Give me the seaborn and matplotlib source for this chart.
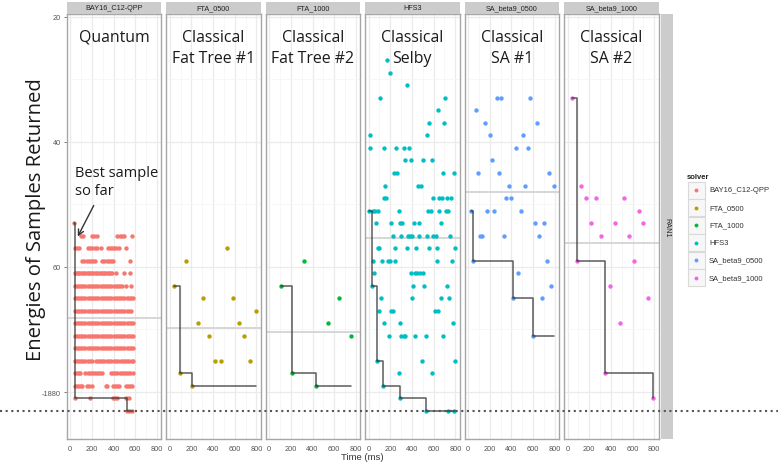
import numpy as np
import pandas as pd
import matplotlib
matplotlib.use("Agg")
import matplotlib.pyplot as plt
import matplotlib.transforms as mtransforms
from matplotlib.lines import Line2D
from matplotlib.patches import Rectangle, FancyArrowPatch
import seaborn as sns

# ---------------- data ----------------
solvers = ["BAY16_C12-QPP", "FTA_0500", "FTA_1000", "HFS3", "SA_beta9_0500", "SA_beta9_1000"]
panel_titles = ["Quantum", "Classical\nFat Tree #1", "Classical\nFat Tree #2",
                "Classical\nSelby", "Classical\nSA #1", "Classical\nSA #2"]
colors = ["#F8766D", "#B79F00", "#00BA38", "#00BFC4", "#619CFF", "#F564E3"]

# Quantum annealer samples: energy level -> times (ms)
q_levels = [-1853, -1855, -1857, -1859, -1861, -1863, -1865, -1867, -1869,
            -1871, -1873, -1875, -1877, -1879, -1881, -1883]
q_times = [
    [35],
    [95, 115, 200, 220, 245, 435, 455, 475, 495, 565],
    [46, 62, 78, 160, 180, 200, 225, 245, 283, 345, 365, 385, 405, 425, 450, 512],
    [110, 130, 150, 170, 190, 210, 232, 295, 315, 335, 355, 375, 390, 552],
    [40, 55, 70, 85, 100, 115, 130, 145, 160, 175, 190, 205, 220, 235, 250, 265, 280,
     295, 310, 325, 340, 355, 370, 388, 419, 496, 552],
    [40, 60, 80, 100, 120, 140, 160, 180, 200, 220, 240, 260, 280, 300, 320, 340, 360,
     380, 400, 420, 440, 460, 480, 512, 558],
    [40, 60, 80, 100, 120, 140, 160, 180, 200, 220, 240, 260, 280, 300, 320, 340, 360,
     380, 400, 420, 440, 460, 480, 500, 520, 540, 560, 578],
    [40, 60, 80, 100, 120, 140, 160, 180, 200, 220, 240, 260, 280, 300, 320, 340, 360,
     380, 400, 420, 440, 460, 480, 500, 520, 540, 558],
    [40, 60, 80, 100, 120, 140, 160, 180, 200, 220, 240, 260, 280, 300, 320, 340, 360,
     380, 400, 420, 440, 460, 480, 500, 520, 540, 560, 578],
    [40, 60, 80, 100, 120, 140, 160, 180, 200, 220, 240, 260, 280, 300, 320, 340, 360,
     380, 400, 420, 440, 460, 480, 500, 520, 540, 560, 578],
    [40, 60, 80, 100, 120, 140, 160, 180, 200, 220, 240, 260, 280, 300, 320, 340, 360,
     380, 400, 420, 440, 460, 480, 500, 520, 540, 560, 578],
    [40, 60, 80, 100, 120, 140, 160, 180, 200, 235, 255, 275, 295, 315, 335, 355, 372,
     405, 425, 445, 465, 485, 505, 525, 545, 565, 575],
    [40, 60, 80, 93, 140, 160, 180, 200, 217, 235, 255, 275, 295, 375, 395, 415, 435,
     455, 475, 495, 515, 535, 555, 575],
    [40, 60, 80, 100, 108, 155, 175, 200, 328, 340, 390, 410, 430, 450, 512, 530, 550, 574],
    [40, 186, 390, 410, 434, 512, 540],
    [520, 545, 572],
]

fta500_time = [527, 152, 43, 310, 583, 794, 260, 636, 363, 688, 419, 471, 738, 96, 205]
fta500_energy = [-1857, -1859, -1863, -1865, -1865, -1867, -1869, -1869, -1871, -1871,
                 -1875, -1875, -1875, -1877, -1879]

fta1000_time = [323, 109, 645, 540, 751, 214, 431]
fta1000_energy = [-1859, -1863, -1865, -1869, -1871, -1877, -1879]

hfs_levels = [-1827, -1829, -1831, -1833, -1835, -1837, -1839, -1841, -1843, -1845,
              -1847, -1849, -1851, -1853, -1855, -1857, -1859, -1861, -1863, -1865,
              -1867, -1869, -1871, -1875, -1877, -1879, -1881, -1883]
hfs_times = [
    [168], [199], [354], [109, 704], [636], [555, 698], [13, 540],
    [16, 140, 255, 323, 369], [338, 388, 503, 586], [230, 264, 686, 791],
    [155, 456, 481], [146, 162, 596, 651, 676, 726, 757],
    [7, 37, 59, 84, 279, 549, 574, 651, 713, 735],
    [69, 202, 286, 310, 419, 462, 664],
    [224, 301, 363, 379, 400, 465, 540, 596, 620, 751],
    [84, 100, 239, 357, 441, 558, 627, 797],
    [44, 124, 177, 193, 248, 633, 769],
    [53, 394, 425, 447, 472, 503],
    [31, 410, 512, 720],
    [115, 400, 667, 744],
    [100, 208, 224, 611, 642],
    [146, 286, 782],
    [186, 301, 326, 338, 431, 527, 689],
    [75, 493, 800],
    [276, 589], [131], [286], [527, 729, 791],
]

sa1_levels = [-1833, -1835, -1837, -1839, -1841, -1843, -1845, -1847, -1849, -1851,
              -1853, -1855, -1859, -1861, -1863, -1865, -1871]
sa1_times = [
    [264, 307, 571], [69], [155, 639], [199, 506], [441, 552], [220],
    [90, 286, 744], [376, 527, 791], [351, 394], [28, 177, 242, 484],
    [614, 701], [109, 131, 329, 658], [47, 726], [462], [766], [419, 683], [596],
]

sa2_levels = [-1833, -1847, -1849, -1851, -1853, -1855, -1859, -1863, -1865, -1869,
              -1877, -1881]
sa2_times = [
    [41], [127], [174, 261, 524], [658], [214, 437, 698], [307, 568],
    [84, 611], [391], [744], [481], [348], [785],
]

mean_energy = [-1868.2, -1869.8, -1870.35, -1855.4, -1848.05, -1856.2]
ground_state = -1883
y_ticks = [-1880, -1860, -1840, -1820]
y_tick_labels = ["-1880", "60", "40", "20"]
x_ticks = [0, 200, 400, 600, 800]


def expand(levels, times):
    t, e = [], []
    for lv, ts in zip(levels, times):
        for v in ts:
            t.append(v)
            e.append(lv)
    return t, e


frames = []
for name, (t, e) in zip(solvers, [expand(q_levels, q_times),
                                  (fta500_time, fta500_energy),
                                  (fta1000_time, fta1000_energy),
                                  expand(hfs_levels, hfs_times),
                                  expand(sa1_levels, sa1_times),
                                  expand(sa2_levels, sa2_times)]):
    frames.append(pd.DataFrame({"solver": name, "time": t, "energy": e}))
df = pd.concat(frames, ignore_index=True)

# ---------------- figure ----------------
sns.set_theme(style="white")
plt.rcParams["font.family"] = ["Liberation Sans", "DejaVu Sans"]

W, H = 778, 464
fig = plt.figure(figsize=(W / 100, H / 100), dpi=100)
fig.patch.set_facecolor("white")


def fx(px):
    return px / W


def fy(py):
    return 1 - py / H


left0, step, pw = 66.7, 99.45, 94.6
ptop, pbot = 15, 440
axes = []
for i, name in enumerate(solvers):
    lft = left0 + i * step
    ax = fig.add_axes([fx(lft), fy(pbot), pw / W, (pbot - ptop) / H])
    axes.append(ax)
    ax.set_facecolor("white")
    ax.set_xlim(-33, 840)
    ax.set_ylim(-1887.5, -1819.6)
    ax.set_xticks(x_ticks)
    ax.set_xticks([100, 300, 500, 700], minor=True)
    ax.set_yticks(y_ticks)
    ax.set_yticks([-1870, -1850, -1830], minor=True)
    ax.grid(which="major", color="#ebebeb", lw=0.9)
    ax.grid(which="minor", color="#f6f6f6", lw=0.6)
    ax.set_axisbelow(True)
    for sp in ax.spines.values():
        sp.set_color("#a6a6a6")
        sp.set_linewidth(1.0)
    ax.tick_params(axis="x", which="major", length=2.5, width=0.7, color="#7f7f7f",
                   labelsize=5.3, labelcolor="#555555", pad=2.0)
    ax.tick_params(which="minor", length=0)
    if i == 0:
        ax.set_yticklabels(y_tick_labels)
        ax.tick_params(axis="y", which="major", length=2.5, width=0.7, color="#7f7f7f",
                       labelsize=5.3, labelcolor="#555555", pad=1.5, left=True)
    else:
        ax.tick_params(axis="y", which="major", length=0, labelleft=False)

    sub = df[df["solver"] == name].sort_values("time", kind="stable")
    ax.axhline(mean_energy[i], color="#d6d6d6", lw=1.4, zorder=1)
    sns.scatterplot(data=sub, x="time", y="energy", color=colors[i], s=10,
                    linewidth=0, ax=ax, legend=False, zorder=3)
    best = sub["energy"].cummin()
    ax.step(sub["time"].values, best.values, where="post", color="#333333",
            lw=1.1, alpha=0.8, zorder=4)
    ax.set_xlabel("")
    ax.set_ylabel("")

    # strip
    sax = fig.add_axes([fx(lft), fy(ptop), pw / W, 12 / H])
    sax.set_facecolor("#cccccc")
    sax.set_xticks([])
    sax.set_yticks([])
    for sp in sax.spines.values():
        sp.set_visible(False)
    sax.text(0.5, 0.5, name, ha="center", va="center", fontsize=5.2, color="#222222",
             transform=sax.transAxes)

    # big panel title
    lines = panel_titles[i].split("\n")
    for k, ln in enumerate(lines):
        fig.text(fx(lft + pw / 2), fy(41.7 + 21.5 * k), ln, ha="center", va="baseline",
                 fontsize=11.4, color="#1a1a1a", family=["Open Sans", "DejaVu Sans"])

# right strip
rax = fig.add_axes([fx(660.5), fy(pbot), 12.8 / W, (pbot - ptop) / H])
rax.set_facecolor("#cccccc")
rax.set_xticks([])
rax.set_yticks([])
for sp in rax.spines.values():
    sp.set_visible(False)
rax.text(0.5, 0.5, "RAN1", rotation=-90, ha="center", va="center", fontsize=5.2,
         color="#222222", transform=rax.transAxes)

# y label (overlay)
fig.text(fx(36), fy(220), "Energies of Samples Returned", rotation=90, ha="center",
         va="center", fontsize=14.6, color="#1a1a1a", family=["Open Sans", "DejaVu Sans"])

# x label
fig.text(fx(362), fy(457.5), "Time (ms)", ha="center", va="center", fontsize=6.8,
         color="#333333")

# annotation
fig.text(fx(75), fy(177.5), "Best sample", ha="left", va="baseline", fontsize=10.5,
         color="#1a1a1a", family=["Open Sans", "DejaVu Sans"])
fig.text(fx(75), fy(195.5), "so far", ha="left", va="baseline", fontsize=10.5,
         color="#1a1a1a", family=["Open Sans", "DejaVu Sans"])
fig.add_artist(FancyArrowPatch(posA=(fx(95), fy(204)), posB=(fx(76.5), fy(240)),
                               transform=fig.transFigure, arrowstyle="->",
                               mutation_scale=10, color="#333333", lw=1.0))

# ground state dotted line across the whole figure
blend = mtransforms.blended_transform_factory(fig.transFigure, axes[0].transData)
fig.add_artist(Line2D([0, 1], [ground_state, ground_state], transform=blend,
                      color="#555555", lw=1.5, linestyle=(0, (1.0, 1.7)), clip_on=False))

# legend
fig.text(fx(687), fy(179), "solver", ha="left", va="baseline", fontsize=5.5,
         fontweight="bold", color="#222222")
for k, (name, c) in enumerate(zip(solvers, colors)):
    yc = 191 + 17.5 * k
    fig.add_artist(Rectangle((fx(687.5), fy(yc + 8.5)), 17 / W, 17 / H,
                             transform=fig.transFigure, facecolor="#f7f7f7",
                             edgecolor="#d9d9d9", lw=0.8))
    fig.add_artist(Line2D([fx(696)], [fy(yc)], marker="o", markersize=2.8, color=c,
                          markeredgewidth=0, linestyle="none", transform=fig.transFigure))
    fig.text(fx(709), fy(yc), name, ha="left", va="center", fontsize=5.5, color="#333333")

fig.savefig("out.png", dpi=100, facecolor="white")
